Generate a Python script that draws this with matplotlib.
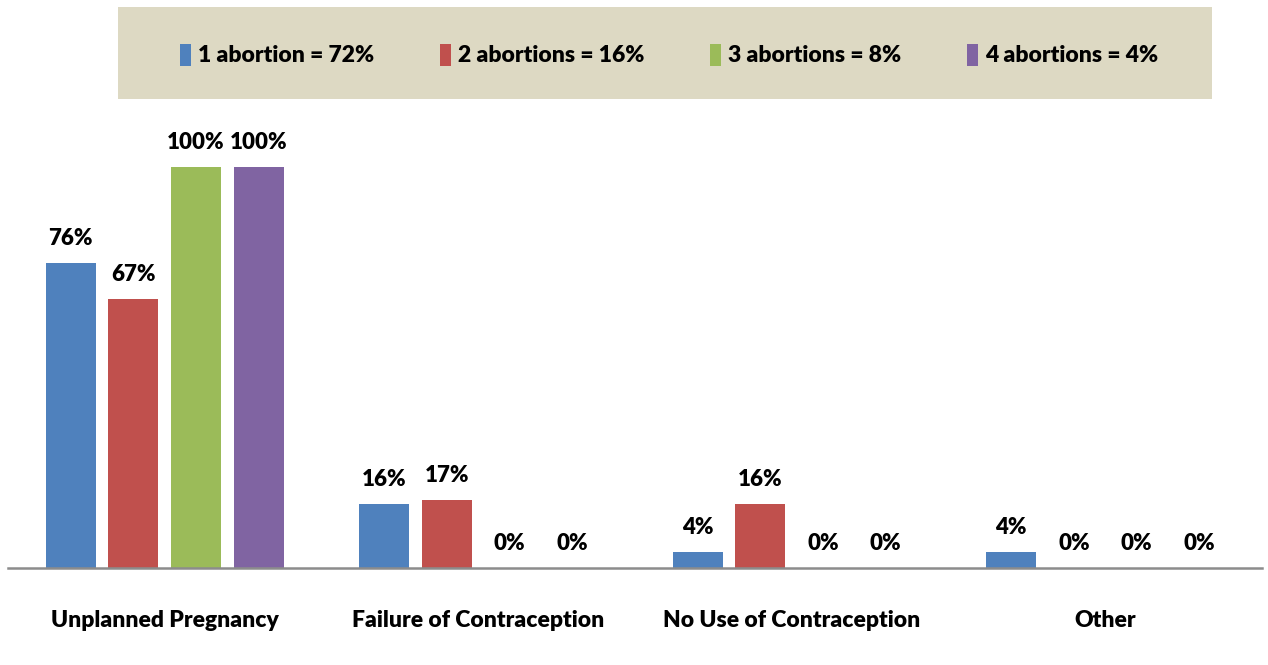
import matplotlib
matplotlib.use("Agg")
import matplotlib.pyplot as plt
from matplotlib.patches import Rectangle
import numpy as np

categories = ["Unplanned Pregnancy", "Failure of Contraception", "No Use of Contraception", "Other"]
series_names = ["1 abortion = 72%", "2 abortions = 16%", "3 abortions = 8%", "4 abortions = 4%"]
one_abortion = [76, 16, 4, 4]
two_abortions = [67, 17, 16, 0]
three_abortions = [100, 0, 0, 0]
four_abortions = [100, 0, 0, 0]
series_values = [one_abortion, two_abortions, three_abortions, four_abortions]
colors = ["#4F81BD", "#C0504D", "#9BBB59", "#8064A2"]

FONT = ["Lato", "DejaVu Sans"]
plt.rcParams["font.family"] = FONT
plt.rcParams["font.weight"] = "bold"

W, H = 1268, 665
fig = plt.figure(figsize=(W / 100, H / 100), dpi=100)
ax_left, ax_right = 8 / W, 1262 / W
ax_bottom = (H - 568) / H
ax_height = 401 / H
ax = fig.add_axes([ax_left, ax_bottom, ax_right - ax_left, ax_height])

x = np.arange(len(categories))
pitch = 0.2
width = 0.16
handles = []
for i, (vals, c, name) in enumerate(zip(series_values, colors, series_names)):
    pos = x + (i - 1.5) * pitch
    bars = ax.bar(pos, vals, width=width, color=c, label=name, zorder=2)
    handles.append(bars)
    for p, v in zip(pos, vals):
        ax.annotate(f"{v}%", (p, v), xytext=(0, 10), textcoords="offset points",
                    ha="center", va="bottom", fontsize=16, fontweight="heavy",
                    color="black", annotation_clip=False)

ax.set_xlim(-0.5, 3.5)
ax.set_ylim(0, 100)
for s in ["top", "right", "left"]:
    ax.spines[s].set_visible(False)
ax.spines["bottom"].set_color("#8C8C8C")
ax.spines["bottom"].set_linewidth(1.8)
ax.spines["bottom"].set_zorder(3)
ax.set_yticks([])
ax.set_xticks(x)
ax.set_xticklabels(categories, fontsize=16.5, fontweight="heavy")
ax.tick_params(axis="x", length=0, pad=30)

# legend box
fig.patches.append(Rectangle((118 / W, 1 - 99 / H), (1212 - 118) / W, (99 - 7) / H,
                             transform=fig.transFigure, facecolor="#DDD9C3",
                             edgecolor="none", zorder=0))
leg = fig.legend(handles=handles, labels=series_names, loc="center",
                 bbox_to_anchor=(669 / W, 1 - 55 / H), ncol=4, frameon=False,
                 handlelength=0.5, handleheight=1.1, handletextpad=0.3,
                 columnspacing=2.85, prop={"weight": "heavy", "size": 16.5, "family": FONT})

fig.savefig("out.png", dpi=100, facecolor="white")
